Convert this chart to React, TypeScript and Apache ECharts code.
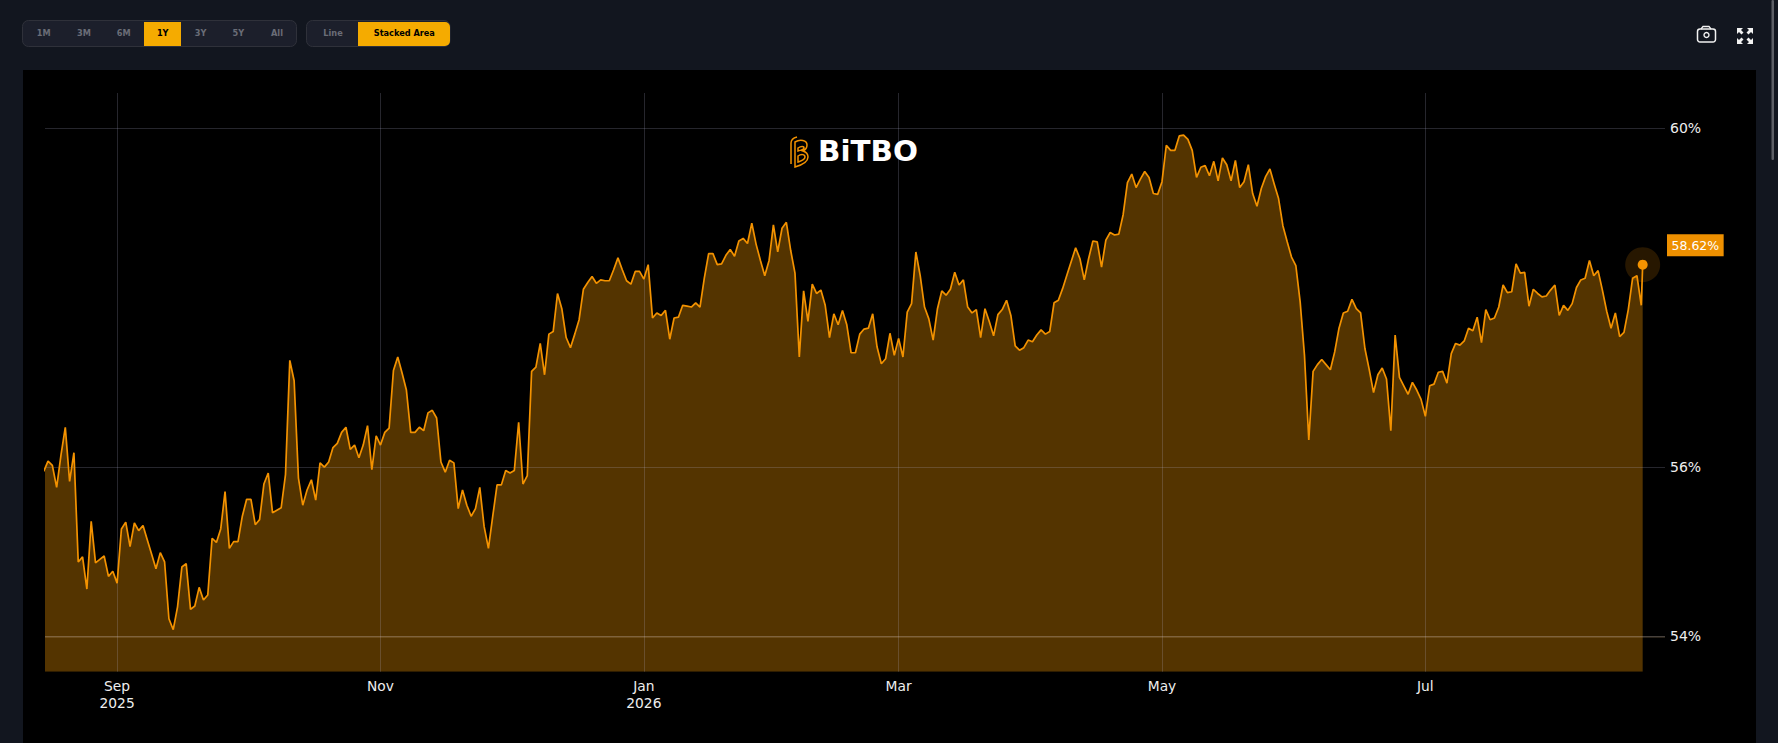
import React, { useEffect, useRef } from "react";
import * as echarts from "echarts";

const rangeLabels = ["1M", "3M", "6M", "1Y", "3Y", "5Y", "All"];
const activeRange = "1Y";
const modeLabels = ["Line", "Stacked Area"];
const logoText = "BiTBO";

const xTickDates = [[2025, 8, 1], [2025, 10, 1], [2026, 0, 1], [2026, 2, 1], [2026, 4, 1], [2026, 6, 1]];
const xTickLabels = ["Sep\n2025", "Nov", "Jan\n2026", "Mar", "May", "Jul"];
const yTicks = [54, 56, 60];
const emphasisedTick = 54;
const lastLabelValue = 58.62;

// Daily values (%), one array a month. aug2025 begins on the 15th, all others on the 1st.
const aug2025 = [55.95, 56.07, 56.02, 55.76, 56.14, 56.47, 55.83, 56.17, 54.88, 54.94, 54.56, 55.36, 54.87, 54.91, 54.95, 54.71, 54.77];
const sep2025 = [54.63, 55.27, 55.35, 55.06, 55.34, 55.25, 55.31, 55.14, 54.97, 54.8, 54.99, 54.88, 54.21, 54.08, 54.35, 54.82, 54.86, 54.32, 54.36, 54.58, 54.43, 54.49, 55.16, 55.11, 55.27, 55.71, 55.04, 55.12, 55.12, 55.42];
const oct2025 = [55.62, 55.62, 55.32, 55.38, 55.8, 55.93, 55.46, 55.49, 55.52, 55.91, 57.26, 57.02, 55.87, 55.55, 55.73, 55.85, 55.61, 56.05, 56.0, 56.06, 56.23, 56.28, 56.41, 56.47, 56.21, 56.26, 56.11, 56.26, 56.49, 55.97, 56.37];
const nov2025 = [56.26, 56.41, 56.46, 57.14, 57.3, 57.11, 56.91, 56.41, 56.41, 56.47, 56.43, 56.64, 56.67, 56.58, 56.06, 55.94, 56.08, 56.05, 55.51, 55.73, 55.55, 55.42, 55.51, 55.76, 55.3, 55.04, 55.42, 55.79, 55.79, 55.96];
const dec2025 = [55.93, 55.96, 56.53, 55.8, 55.9, 57.13, 57.18, 57.46, 57.09, 57.57, 57.6, 58.05, 57.87, 57.53, 57.41, 57.57, 57.74, 58.1, 58.18, 58.25, 58.17, 58.21, 58.2, 58.2, 58.33, 58.47, 58.33, 58.2, 58.16, 58.31, 58.31];
const jan2026 = [58.22, 58.39, 57.76, 57.82, 57.79, 57.85, 57.51, 57.76, 57.77, 57.91, 57.9, 57.89, 57.94, 57.89, 58.23, 58.52, 58.52, 58.39, 58.4, 58.5, 58.57, 58.49, 58.67, 58.7, 58.64, 58.88, 58.63, 58.44, 58.26, 58.44, 58.86];
const feb2026 = [58.54, 58.82, 58.89, 58.56, 58.29, 57.3, 58.08, 57.72, 58.16, 58.05, 58.09, 57.91, 57.53, 57.81, 57.68, 57.85, 57.68, 57.35, 57.35, 57.57, 57.63, 57.64, 57.81, 57.42, 57.22, 57.28, 57.58, 57.32];
const mar2026 = [57.52, 57.3, 57.83, 57.93, 58.54, 58.26, 57.89, 57.75, 57.5, 57.87, 58.08, 58.03, 58.1, 58.3, 58.15, 58.21, 57.89, 57.82, 57.86, 57.53, 57.87, 57.72, 57.55, 57.8, 57.86, 57.97, 57.79, 57.43, 57.38, 57.41, 57.5];
const apr2026 = [57.48, 57.56, 57.62, 57.57, 57.6, 57.94, 57.97, 58.11, 58.27, 58.43, 58.59, 58.46, 58.21, 58.46, 58.67, 58.66, 58.36, 58.68, 58.77, 58.74, 58.75, 58.98, 59.36, 59.46, 59.3, 59.4, 59.49, 59.42, 59.23, 59.22];
const may2026 = [59.37, 59.8, 59.74, 59.74, 59.91, 59.92, 59.87, 59.74, 59.42, 59.54, 59.56, 59.44, 59.61, 59.38, 59.65, 59.57, 59.38, 59.62, 59.3, 59.37, 59.57, 59.23, 59.08, 59.29, 59.43, 59.52, 59.34, 59.17, 58.85, 58.66, 58.48];
const jun2026 = [58.38, 57.95, 57.32, 56.32, 57.13, 57.21, 57.27, 57.21, 57.15, 57.36, 57.64, 57.82, 57.84, 57.98, 57.87, 57.82, 57.4, 57.15, 56.88, 57.09, 57.17, 57.04, 56.43, 57.56, 57.06, 56.96, 56.86, 57.0, 56.91, 56.8];
const jul2026 = [56.6, 56.96, 56.98, 57.12, 57.13, 56.99, 57.34, 57.46, 57.44, 57.49, 57.64, 57.61, 57.77, 57.47, 57.86, 57.74, 57.76, 57.89, 58.15, 58.06, 58.07, 58.4, 58.29, 58.3, 57.9, 58.1, 58.05, 58.01, 58.02, 58.09, 58.15];
const aug2026 = [57.79, 57.91, 57.85, 57.93, 58.12, 58.21, 58.23, 58.44, 58.26, 58.32, 58.09, 57.84, 57.64, 57.82, 57.54, 57.59, 57.86, 58.23, 58.26, 57.91];
const liveValue = 58.39;

const DAY = 86400000;
const months: [number, number, number, number[]][] = [
  [2025, 7, 15, aug2025], [2025, 8, 1, sep2025], [2025, 9, 1, oct2025], [2025, 10, 1, nov2025],
  [2025, 11, 1, dec2025], [2026, 0, 1, jan2026], [2026, 1, 1, feb2026], [2026, 2, 1, mar2026],
  [2026, 3, 1, apr2026], [2026, 4, 1, may2026], [2026, 5, 1, jun2026], [2026, 6, 1, jul2026], [2026, 7, 1, aug2026],
];
const points: [number, number][] = [];
months.forEach(([y, m, d, vals]) => vals.forEach((v, i) => points.push([Date.UTC(y, m, d + i), v])));
const liveTime = Date.UTC(2026, 7, 20) + 0.33 * DAY;
points.push([liveTime, liveValue]);

const tickTimes = xTickDates.map(([y, m, d]) => Date.UTC(y, m, d));
const xMin = Date.UTC(2025, 8, 1) - 16.7 * DAY;
const xMax = Date.UTC(2025, 8, 1) + 358.5 * DAY;

const ORANGE = "#f39200";
const GRID = "rgba(190,190,225,0.2)";
const BTN = "#f5ab00";

echarts.graphic.registerShape("bitboLogo", echarts.graphic.extendPath(
  "M1 27 V6 C1 3 3 1 7 0 M5 30 V5 C10 2 17 3 17 8 C17 11 15 13 13 14 C16 15 18 17 18 20 C18 25 12 28 5 30 Z M8 11 C11 9 14 9 14 11 C14 13 11 13 8 14 Z M8 19 C11 17 15 17 15 20 C15 23 11 24 8 25 Z", {}));
echarts.graphic.registerShape("fullScreenIcon", echarts.graphic.extendPath(
  "M0 0H6L4 2 L6.5 4.5 L4.5 6.5 L2 4 L0 6Z M16 0V6L14 4 L11.5 6.5 L9.5 4.5 L12 2 L10 0Z M0 16V10L2 12 L4.5 9.5 L6.5 11.5 L4 14 L6 16Z M16 16H10L12 14 L9.5 11.5 L11.5 9.5 L14 12 L16 10Z", {}));

const rangeCenters = [43.7, 84, 123.7, 162.7, 200.5, 238.3, 277];
const modeCenters = [333, 404.3];

function toolbarText(text: string, x: number, active: boolean) {
  return {
    type: "text", x, y: 33, z: 5,
    style: { text, align: "center", verticalAlign: "middle", fill: active ? "#000000" : "#6a6d77", font: 'bold 8.2px "DejaVu Sans"' },
  };
}

function buildGraphics() {
  const els: any[] = [
    { type: "rect", z: -5, shape: { x: 23, y: 70, width: 1733, height: 673 }, style: { fill: "#000000" } },
    { type: "rect", z: 1, shape: { x: 1771.5, y: 0, width: 2.5, height: 160, r: 1 }, style: { fill: "#5d5f66" } },
    { type: "rect", z: 1, shape: { x: 22.5, y: 20.5, width: 274, height: 26, r: 6 }, style: { fill: "#1c1f2b", stroke: "#2f313a", lineWidth: 1 } },
    { type: "rect", z: 2, shape: { x: 144, y: 22, width: 37, height: 24 }, style: { fill: BTN } },
    { type: "rect", z: 1, shape: { x: 306.5, y: 20.5, width: 143.5, height: 26, r: 6 }, style: { fill: "#1c1f2b", stroke: "#2f313a", lineWidth: 1 } },
    { type: "rect", z: 2, shape: { x: 358, y: 22, width: 92, height: 24, r: [0, 5, 5, 0] }, style: { fill: BTN } },
    { type: "bitboLogo", z: 5, x: 790, y: 137, style: { fill: "none", stroke: ORANGE, lineWidth: 1.5 } },
    { type: "text", z: 5, x: 818, y: 152, scaleX: 1.07, style: { text: logoText, align: "left", verticalAlign: "middle", fill: "#ffffff", font: 'bold 27.5px "DejaVu Sans"' } },
    { type: "rect", z: 5, shape: { x: 1697.5, y: 29, width: 18, height: 13, r: 2.5 }, style: { fill: "none", stroke: "#f2f2f2", lineWidth: 1.5 } },
    { type: "polyline", z: 5, shape: { points: [[1701, 29], [1703, 26.5], [1709, 26.5], [1711, 29]] }, style: { fill: "none", stroke: "#f2f2f2", lineWidth: 1.3 } },
    { type: "circle", z: 5, shape: { cx: 1706.5, cy: 35, r: 2.5 }, style: { fill: "none", stroke: "#f2f2f2", lineWidth: 1.4 } },
    { type: "fullScreenIcon", z: 5, x: 1737, y: 28, style: { fill: "#f2f2f2" } },
  ];
  rangeLabels.forEach((t, i) => els.push(toolbarText(t, rangeCenters[i], t === activeRange)));
  modeLabels.forEach((t, i) => els.push(toolbarText(t, modeCenters[i], i === 1)));
  return els;
}

export default function App() {
  const ref = useRef<HTMLDivElement>(null);
  useEffect(() => {
    const chart = echarts.init(ref.current!, undefined, { renderer: "svg" });
    chart.setOption({
      animation: false,
      backgroundColor: "#12161f",
      graphic: { elements: buildGraphics() },
      grid: { left: 45, top: 93, width: 1620, height: 578.8, containLabel: false },
      xAxis: {
        type: "value", min: xMin, max: xMax, z: 2,
        axisLine: { show: false },
        axisTick: { show: false, customValues: tickTimes },
        axisLabel: {
          customValues: tickTimes,
          color: "#eeeeee", fontFamily: "DejaVu Sans", fontSize: 13.8, lineHeight: 16.5, margin: 6,
          hideOverlap: false,
          formatter: (v: number) => xTickLabels[tickTimes.indexOf(v)] ?? "",
        },
        splitLine: { show: true, lineStyle: { color: GRID, width: 1 } },
      },
      yAxis: {
        type: "value", position: "right", min: 53.583, max: 60.417, z: 2,
        axisLine: { show: false },
        axisTick: { show: false, customValues: yTicks },
        axisLabel: {
          customValues: yTicks,
          color: "#eeeeee", fontFamily: "DejaVu Sans", fontSize: 14, margin: 5,
          formatter: (v: number) => `${v}%`,
        },
        splitLine: { show: true, lineStyle: { color: GRID, width: 1 } },
      },
      series: [
        {
          name: "area", type: "line", z: 1, data: points, showSymbol: false, silent: true,
          lineStyle: { width: 0, opacity: 0 },
          areaStyle: { color: "rgba(240,148,0,0.35)", origin: "start", opacity: 1 },
        },
        {
          name: "line", type: "line", z: 3, data: points, showSymbol: false, silent: true,
          lineStyle: { color: ORANGE, width: 1.7 },
          markLine: {
            silent: true, symbol: "none", label: { show: false }, animation: false,
            lineStyle: { color: "rgba(220,190,140,0.18)", width: 2, type: "solid" },
            data: [{ yAxis: emphasisedTick }],
          },
        },
        {
          name: "halo", type: "scatter", z: 4, data: [[liveTime, liveValue]], symbolSize: 35, silent: true,
          itemStyle: { color: "rgba(243,146,0,0.16)", opacity: 1 },
        },
        {
          name: "dot", type: "scatter", z: 5, data: [[liveTime, liveValue]], symbolSize: 10, silent: true,
          itemStyle: { color: ORANGE, opacity: 1 },
        },
        {
          name: "lastLabel", type: "scatter", z: 6, data: [[xMax, lastLabelValue]], symbolSize: 1, silent: true,
          clip: false,
          itemStyle: { color: "transparent", opacity: 1 },
          label: {
            show: true, position: "right", distance: 1.5,
            formatter: `${lastLabelValue}%`,
            color: "#ffffff", backgroundColor: "#ee9000",
            fontFamily: "DejaVu Sans", fontSize: 12.5, padding: [5, 4.5, 4, 4.5],
          },
        },
      ],
    });
    return () => chart.dispose();
  }, []);
  return <div ref={ref} style={{ position: "fixed", left: 0, top: 0, width: 1778, height: 743 }} />;
}
